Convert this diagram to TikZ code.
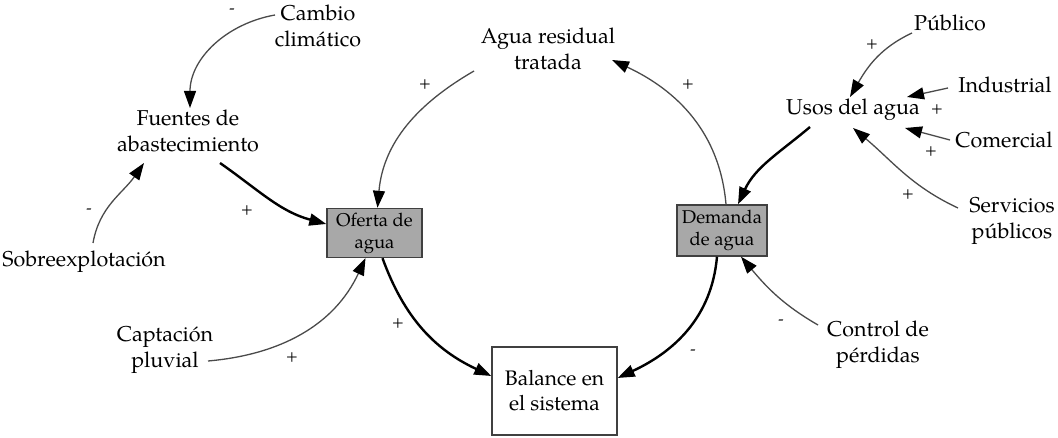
\documentclass[tikz,border=0pt]{standalone}
\usepackage{fontspec}
\setmainfont{TeX Gyre Pagella}
\usetikzlibrary{arrows.meta,calc}
\definecolor{thinline}{HTML}{4A4A4A}
\definecolor{boxgray}{HTML}{A8A8A8}
\definecolor{boxedge}{HTML}{404040}
\tikzset{
  lbl/.style={align=center,inner sep=0pt,font=\fontsize{21.5}{26}\selectfont},
  varbox/.style={draw=boxedge,line width=1.4pt,fill=boxgray,align=center,inner sep=0pt,font=\fontsize{18.5}{22}\selectfont},
  balbox/.style={draw=boxedge,line width=1.4pt,fill=white,align=center,inner sep=0pt,font=\fontsize{21}{25}\selectfont},
  thinarr/.style={draw=thinline,line width=1.3pt,-{Triangle[length=17pt,width=12pt,color=black]}},
  thickarr/.style={draw=black,line width=2.4pt,-{Triangle[length=17pt,width=12pt]}},
  sgn/.style={inner sep=0pt,font=\fontsize{16}{16}\selectfont,text=black}
}
\begin{document}
\begin{tikzpicture}[x=1pt,y=1pt]
\useasboundingbox (0,0) rectangle (1058,-438);
% nodes
\node[lbl] (cc) at (318,-26) {Cambio\\climático};
\node[lbl] (fa) at (188,-131) {Fuentes de\\abastecimiento};
\node[lbl] (so) at (84,-262) {Sobreexplotación};
\node[lbl] (cp) at (165,-350) {Captación\\pluvial};
\node[varbox,minimum width=95pt,minimum height=49pt] (of) at (374.5,-233) {Oferta de\\agua};
\node[balbox,minimum width=125pt,minimum height=88pt] (ba) at (554.5,-391) {Balance en\\el sistema};
\node[varbox,minimum width=90pt,minimum height=51pt] (de) at (722,-230.5) {Demanda\\de agua};
\node[lbl] (ar) at (548,-49) {Agua residual\\tratada};
\node[lbl] (us) at (853,-110) {Usos del agua};
\node[lbl] (pu) at (950,-23) {Público};
\node[lbl] (ind) at (1005,-85) {Industrial};
\node[lbl] (co) at (1004,-140) {Comercial};
\node[lbl] (se) at (1012,-221) {Servicios\\públicos};
\node[lbl] (cl) at (878,-345) {Control de\\pérdidas};
% connectors
\draw[thinarr] ($(cc)+(-43,11)$) to[out=190,in=90] ($(fa)+(2,23)$);
\draw[thickarr] ($(fa)+(32,-32)$) to[out=-35,in=165] ($(of.west)+(0,9)$);
\draw[thinarr] ($(so)+(9,19)$) to[out=80,in=235] ($(fa)+(-44,-32)$);
\draw[thinarr] ($(cp)+(43,-11)$) to[out=5,in=-115] ($(of.south)+(-9,0)$);
\draw[thickarr] ($(of.south)+(8,0)$) to[out=-70,in=155] ($(ba.west)+(0,15)$);
\draw[thinarr] ($(ar)+(-74,-22)$) to[out=210,in=85] ($(of.north)+(3,0)$);
\draw[thinarr] ($(de.north)+(4,0)$) to[out=95,in=-25] ($(ar)+(64,-11)$);
\draw[thickarr] ($(us)+(-43,-17)$) to[out=220,in=65] ($(de.north)+(16,0)$);
\draw[thickarr] ($(de.south)+(-5,0)$) to[out=-95,in=25] ($(ba.east)+(0,13)$);
\draw[thinarr] ($(cl)+(-60,20)$) to[out=150,in=-50] ($(de.south)+(19,0)$);
\draw[thinarr] ($(pu)+(-38,-10)$) to[out=205,in=60] ($(us)+(-3,13)$);
\draw[thinarr] ($(ind)+(-57,-3)$) -- ($(us)+(54,13)$);
\draw[thinarr] ($(co)+(-54,0)$) -- ($(us)+(52,-18)$);
\draw[thinarr] ($(se)+(-54,13)$) to[out=155,in=-40] ($(us)+(0,-18)$);
% polarity signs
\node[sgn] (s1) at (232,-11) {-};
\node[sgn] (s2) at (247,-211) {+};
\node[sgn] (s3) at (89,-211) {-};
\node[sgn] (s4) at (292,-358) {+};
\node[sgn] (s5) at (398,-324) {+};
\node[sgn] (s6) at (425,-85) {+};
\node[sgn] (s7) at (688,-85) {+};
\node[sgn] (s8) at (693,-352) {-};
\node[sgn] (s9) at (781,-322) {-};
\node[sgn] (s10) at (872,-45) {+};
\node[sgn] (s11) at (937,-110) {+};
\node[sgn] (s12) at (931,-152) {+};
\node[sgn] (s13) at (908,-195) {+};
\end{tikzpicture}
\end{document}
